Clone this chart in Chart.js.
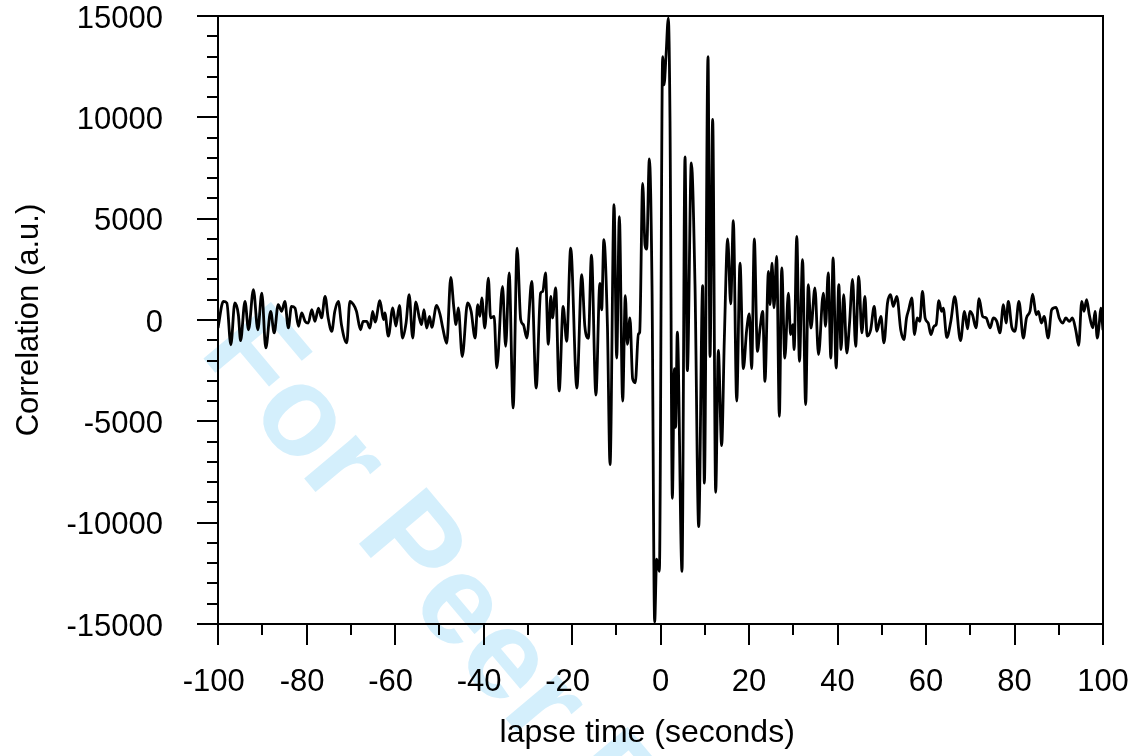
<!DOCTYPE html>
<html>
<head>
<meta charset="utf-8">
<title>Correlation vs lapse time</title>
<script src="https://cdn.jsdelivr.net/npm/chart.js@4.4.1/dist/chart.umd.min.js"></script>
<style>
  body { margin: 0; background: #fff; }
</style>
</head>
<body>
<canvas id="corrChart" width="1137" height="756"></canvas>
<script>
// lapse time (s) of each sample
const lapseTime = [
  -100.0, -98.8, -98.0, -97.1, -96.2, -95.4, -94.9, -93.9, -93.1, -92.0,
  -91.0, -90.1, -89.2, -88.1, -87.3, -86.4, -85.6, -84.9, -84.1, -83.4,
  -82.6, -81.8, -81.1, -80.3, -79.6, -78.8, -78.1, -77.3, -76.6, -75.8,
  -75.1, -74.3, -73.6, -72.8, -72.1, -70.9, -70.2, -69.4, -68.7, -67.8,
  -67.2, -66.4, -65.65, -65.05, -64.5, -63.4, -62.6, -62.3, -61.5, -60.5,
  -59.8, -59.0, -58.3, -57.5, -56.8, -56.0, -55.3, -54.5, -54.0, -53.45,
  -52.85, -52.2, -51.7, -50.6, -49.8, -49.2, -48.3, -47.4, -46.7, -46.2,
  -45.7, -44.8, -43.6, -42.8, -41.9, -41.3, -40.8, -40.4, -39.7, -38.9,
  -38.4, -37.6, -37.0, -35.7, -35.0, -34.2, -33.3, -32.4, -31.6, -31.0,
  -30.2, -29.1, -28.1, -27.1, -26.6, -26.0, -25.35, -24.8, -24.4, -23.7,
  -22.9, -22.0, -21.2, -20.3, -18.9, -17.8, -17.1, -16.3, -15.6, -14.6,
  -13.7, -13.3, -12.8, -12.0, -11.4, -10.5, -9.9, -9.3, -8.55, -7.95,
  -7.5, -6.9, -6.3, -5.7, -5.0, -4.7, -4.03, -3.5, -3.13, -2.52,
  -1.92, -1.32, -0.87, -0.26, 0.49, 0.79, 1.24, 1.77, 2.15, 2.68,
  3.13, 3.43, 3.8, 4.86, 5.54, 6.07, 6.97, 7.8, 8.63, 9.53,
  9.91, 10.74, 11.19, 11.79, 12.47, 13.07, 13.82, 14.43, 15.18, 15.86,
  16.46, 17.22, 17.97, 18.72, 19.47, 20.08, 20.6, 21.2, 21.9, 22.5,
  23.1, 23.6, 24.4, 24.75, 25.2, 25.65, 26.25, 26.86, 27.4, 28.1,
  28.9, 29.4, 29.9, 30.2, 30.8, 31.4, 32.1, 32.8, 33.4, 34.0,
  34.9, 35.7, 36.8, 37.3, 37.9, 38.5, 39.0, 39.7, 40.3, 40.8,
  41.4, 42.1, 42.7, 43.4, 44.1, 44.8, 45.5, 46.2, 46.7, 47.5,
  48.3, 48.9, 49.8, 50.5, 51.3, 52.0, 52.6, 53.4, 54.3, 55.0,
  55.6, 56.1, 56.8, 57.4, 58.0, 58.6, 59.2, 59.8, 60.5, 61.1,
  61.8, 62.3, 62.9, 63.5, 63.9, 64.7, 65.6, 66.5, 67.8, 68.7,
  69.4, 69.9, 70.5, 71.3, 72.0, 72.8, 73.6, 74.5, 75.2, 76.0,
  76.7, 77.5, 78.1, 78.6, 79.4, 80.1, 81.0, 82.0, 82.7, 83.5,
  84.1, 84.9, 85.4, 86.1, 86.7, 87.6, 88.4, 89.4, 90.1, 90.9,
  91.6, 92.4, 93.1, 93.9, 94.5, 95.2, 95.7, 96.3, 96.9, 97.7,
  98.2, 98.7, 99.2, 99.5, 100.0
];

// correlation (a.u.) at each lapse time
const correlation = [
  -390, 920, 840, -1220, 840, 260, -1020, 920, -480, 1500,
  -480, 1330, -1380, 430, -640, 760, 430, 920, -390, 670,
  590, -310, 350, -70, -150, 510, -70, 590, 100, 1170,
  100, -560, 430, 920, -230, -1130, 920, 760, 430, -480,
  -70, -70, -400, 430, -100, 950, 20, 350, -800, 600,
  -300, 720, -890, -150, 1250, -890, 890, 100, -230, 510,
  -400, 180, -360, 720, 260, -400, -1150, 2100, 600, -230,
  600, -1800, 840, 430, -890, 760, 180, 1090, -400, 2070,
  100, 180, -2370, 1660, -1300, 2320, -4340, 3550, 20, -230,
  -890, 1900, -3360, 1330, 1410, 2320, -1200, 1170, 100, 1580,
  -3500, 670, -1050, 3550, -3360, 2240, -300, -900, 3200, -3700,
  1800, 500, 3960, -230, -7140, 5690, -1880, 5100, -4000, 1200,
  -1200, 100, -2900, -3100, -700, -600, 6740, 3700, 3500, 7950,
  1700, -14900, -11800, -12400, 13000, 11600, 13000, 14900, 9800, -8800,
  -2400, -5300, -600, -12400, 8050, -2500, 7750, 1700, -10200, 1700,
  -8050, 13000, -1800, 9900, -8500, -1500, -6200, -900, 4000, 800,
  4900, -4000, 2800, -2400, -500, 300, -2400, 4000, -1550, -400,
  430, -3030, 2400, 760, 2800, 600, 3140, -4750, 2570, -1880,
  1330, -720, -230, -1460, 4130, -2040, 2980, -4180, 1740, -400,
  1580, -1710, 1330, -310, 2320, -1880, 3060, -2370, 1740, -1460,
  1250, -1630, -230, 2000, -1300, 2150, -640, 1170, -800, -480,
  670, -560, 180, -1130, 840, 1250, 670, 1170, -500, -970,
  100, 510, 1090, -720, 100, -70, 1410, 100, -150, -720,
  -310, -230, 950, 430, 590, -860, -70, 1150, -1020, 430,
  -440, 430, 260, -390, 1050, 180, 100, -390, 100, -70,
  -640, 760, -150, 920, -360, -560, 920, -890, 100, 430,
  1280, 260, 430, -150, 180, -890, 510, 620, 100, -150,
  100, -70, 100, -560, -1250, 920, 430, 1000, 260, -390,
  430, -890, -70, 590, -500
];

const xTickValues = [-100, -80, -60, -40, -20, 0, 20, 40, 60, 80, 100];
const yTickValues = [-15000, -10000, -5000, 0, 5000, 10000, 15000];
const xMinorStep = 10;
const yMinorStep = 1000;

const fontFamily = '"Liberation Sans", Arial, Helvetica, sans-serif';

// light blue review stamp behind the plot
const watermark = {
  id: 'watermark',
  beforeDraw(chart) {
    const ctx = chart.ctx;
    ctx.save();
    ctx.translate(198, 352);
    ctx.rotate(50 * Math.PI / 180);
    ctx.font = 'bold 128px ' + fontFamily;
    ctx.fillStyle = 'rgb(212, 239, 252)';
    ctx.textBaseline = 'alphabetic';
    ctx.fillText('For Peer Review', 0, 0);
    ctx.restore();
  }
};

// frame plus major/minor tick marks pointing outwards
const axisFrame = {
  id: 'axisFrame',
  afterDraw(chart) {
    const ctx = chart.ctx;
    const a = chart.chartArea;
    const x = chart.scales.x;
    const y = chart.scales.y;
    ctx.save();
    ctx.strokeStyle = '#000';
    ctx.lineWidth = 2;
    ctx.strokeRect(a.left, a.top, a.right - a.left, a.bottom - a.top);
    ctx.beginPath();
    for (let v = y.min; v <= y.max; v += yMinorStep) {
      const py = Math.round(y.getPixelForValue(v));
      const len = yTickValues.includes(v) ? 21 : 11;
      ctx.moveTo(a.left, py);
      ctx.lineTo(a.left - len, py);
    }
    for (let v = x.min; v <= x.max; v += xMinorStep) {
      const px = Math.round(x.getPixelForValue(v));
      const len = xTickValues.includes(v) ? 21 : 11;
      ctx.moveTo(px, a.bottom);
      ctx.lineTo(px, a.bottom + len);
    }
    ctx.stroke();
    ctx.restore();
  }
};

new Chart(document.getElementById('corrChart'), {
  type: 'line',
  data: {
    datasets: [{
      label: 'Correlation',
      data: lapseTime.map((t, i) => ({ x: t, y: correlation[i] })),
      borderColor: '#000',
      borderWidth: 2.8,
      pointRadius: 0,
      fill: false,
      cubicInterpolationMode: 'monotone'
    }]
  },
  options: {
    responsive: false,
    animation: false,
    devicePixelRatio: 1,
    layout: { padding: { left: 0, right: 34, top: 16, bottom: 0 } },
    plugins: {
      legend: { display: false },
      tooltip: { enabled: false }
    },
    scales: {
      x: {
        type: 'linear',
        min: -100,
        max: 100,
        afterBuildTicks: s => { s.ticks = xTickValues.map(v => ({ value: v })); },
        afterFit: s => {
          s.height = 132;
          s.paddingLeft = 0;
          s.paddingRight = 0;
        },
        grid: { display: false, drawTicks: false },
        border: { display: false },
        ticks: {
          color: '#000',
          padding: 40,
          maxRotation: 0,
          autoSkip: false,
          font: { family: fontFamily, size: 31 },
          // digits sit centred on the tick, the minus sign hangs left
          callback: v => v < 0 ? v + ' ' : String(v)
        },
        title: {
          display: true,
          text: 'lapse time (seconds)   ',
          color: '#000',
          font: { family: fontFamily, size: 32 },
          padding: { top: 4, bottom: 4 }
        }
      },
      y: {
        min: -15000,
        max: 15000,
        afterBuildTicks: s => { s.ticks = yTickValues.map(v => ({ value: v })); },
        afterFit: s => {
          s.width = 218;
          s.paddingTop = 0;
          s.paddingBottom = 0;
        },
        grid: { display: false, drawTicks: false },
        border: { display: false },
        ticks: {
          color: '#000',
          padding: 55,
          labelOffset: 3,
          font: { family: fontFamily, size: 31, lineHeight: 1 },
          callback: v => String(v)
        },
        title: {
          display: true,
          text: 'Correlation (a.u.)',
          color: '#000',
          font: { family: fontFamily, size: 31 },
          padding: { top: 11, bottom: 11 }
        }
      }
    }
  },
  plugins: [watermark, axisFrame]
});
</script>
</body>
</html>
